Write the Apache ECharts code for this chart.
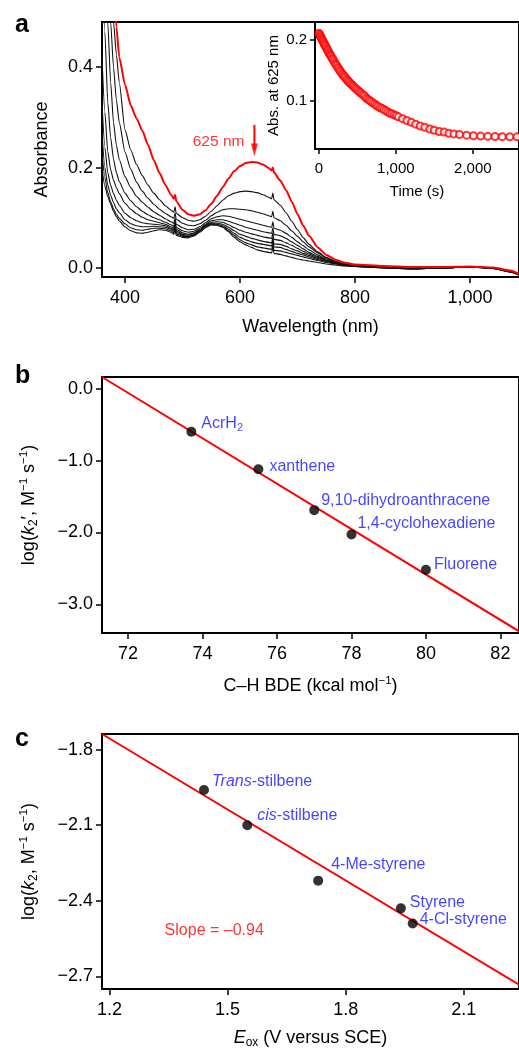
<!DOCTYPE html>
<html>
<head>
<meta charset="utf-8">
<script src="https://cdn.jsdelivr.net/npm/echarts@6.0.0/dist/echarts.min.js"></script>
<style>
  html, body { margin: 0; padding: 0; background: #fff; }
  #chart { width: 519px; height: 1050px; }
</style>
</head>
<body>
<div id="chart"></div>
<script>
// ---------- Panel a: UV-vis spectra during decay ----------
const wavelengths = [360, 365, 370, 375, 380, 385, 390, 400, 410, 420, 430, 440, 450, 460, 470, 480, 485, 487, 489,
  500, 510, 520, 530, 540, 550, 560, 570, 580, 590, 600, 610, 620, 630, 640, 650, 655, 657, 659,
  670, 680, 690, 700, 710, 720, 735, 750, 765, 780, 800, 850, 900, 950, 1000, 1040, 1070, 1085];

const specInitial = [0.95, 0.9, 0.82, 0.7, 0.58, 0.48, 0.42, 0.365, 0.324, 0.298, 0.274, 0.245, 0.215, 0.189, 0.166, 0.146, 0.138, 0.146, 0.133,
  0.116, 0.107, 0.104, 0.107, 0.115, 0.128, 0.144, 0.161, 0.178, 0.193, 0.203, 0.209, 0.211, 0.21, 0.206, 0.199, 0.194, 0.2, 0.19,
  0.174, 0.155, 0.132, 0.107, 0.084, 0.064, 0.041, 0.026, 0.017, 0.011, 0.007, 0.004, 0.002, 0.002, 0.003, 0.001, -0.005, -0.012];

const spec1 = [0.9, 0.76, 0.64, 0.56, 0.49, 0.425, 0.37, 0.275, 0.235, 0.206, 0.184, 0.165, 0.149, 0.136, 0.124, 0.115, 0.111, 0.122, 0.109,
  0.1, 0.095, 0.093, 0.096, 0.103, 0.113, 0.124, 0.135, 0.144, 0.149, 0.152, 0.153, 0.152, 0.15, 0.146, 0.141, 0.138, 0.149, 0.136,
  0.125, 0.11, 0.093, 0.076, 0.06, 0.047, 0.032, 0.021, 0.014, 0.009, 0.005, 0.002, 0.0, 0.001, 0.002, 0.0, -0.006, -0.013];

const spec2 = [0.9, 0.7, 0.57, 0.49, 0.4, 0.335, 0.29, 0.231, 0.197, 0.171, 0.153, 0.139, 0.127, 0.117, 0.109, 0.102, 0.099, 0.11, 0.097,
  0.089, 0.085, 0.084, 0.088, 0.095, 0.104, 0.111, 0.116, 0.118, 0.118, 0.117, 0.116, 0.114, 0.111, 0.108, 0.104, 0.102, 0.113, 0.1,
  0.094, 0.085, 0.074, 0.063, 0.052, 0.042, 0.03, 0.02, 0.013, 0.008, 0.005, 0.002, -0.001, 0.0, 0.002, 0.0, -0.006, -0.013];

const spec3 = [0.75, 0.6, 0.49, 0.37, 0.29, 0.245, 0.216, 0.182, 0.16, 0.143, 0.131, 0.121, 0.112, 0.105, 0.098, 0.092, 0.089, 0.1, 0.087,
  0.08, 0.076, 0.077, 0.082, 0.09, 0.098, 0.102, 0.104, 0.103, 0.1, 0.097, 0.094, 0.091, 0.088, 0.085, 0.082, 0.081, 0.092, 0.079,
  0.075, 0.069, 0.061, 0.052, 0.044, 0.036, 0.026, 0.018, 0.012, 0.008, 0.004, 0.001, -0.001, 0.0, 0.002, 0.0, -0.007, -0.013];

const spec4 = [0.6, 0.47, 0.33, 0.26, 0.217, 0.19, 0.172, 0.149, 0.134, 0.122, 0.113, 0.106, 0.1, 0.096, 0.091, 0.086, 0.083, 0.094, 0.081,
  0.074, 0.071, 0.073, 0.079, 0.087, 0.094, 0.096, 0.096, 0.093, 0.089, 0.085, 0.081, 0.078, 0.075, 0.072, 0.07, 0.069, 0.08, 0.067,
  0.064, 0.059, 0.052, 0.045, 0.038, 0.031, 0.023, 0.016, 0.011, 0.007, 0.004, 0.001, -0.001, 0.0, 0.002, 0.0, -0.007, -0.013];

const spec5 = [0.42, 0.31, 0.232, 0.196, 0.175, 0.16, 0.148, 0.129, 0.117, 0.108, 0.101, 0.096, 0.093, 0.09, 0.087, 0.082, 0.079, 0.09, 0.077,
  0.07, 0.067, 0.07, 0.077, 0.085, 0.091, 0.092, 0.091, 0.086, 0.08, 0.075, 0.071, 0.068, 0.065, 0.062, 0.06, 0.059, 0.07, 0.057,
  0.055, 0.05, 0.045, 0.039, 0.033, 0.028, 0.021, 0.015, 0.01, 0.007, 0.004, 0.001, -0.001, 0.0, 0.002, 0.0, -0.007, -0.013];

const spec6 = [0.33, 0.24, 0.19, 0.165, 0.148, 0.135, 0.125, 0.109, 0.1, 0.094, 0.09, 0.088, 0.087, 0.086, 0.084, 0.079, 0.076, 0.087, 0.074,
  0.067, 0.065, 0.068, 0.075, 0.084, 0.089, 0.089, 0.087, 0.081, 0.074, 0.067, 0.063, 0.059, 0.056, 0.053, 0.051, 0.05, 0.061, 0.048,
  0.047, 0.043, 0.038, 0.034, 0.029, 0.025, 0.019, 0.014, 0.01, 0.006, 0.004, 0.001, -0.001, 0.0, 0.002, 0.0, -0.007, -0.013];

const spec7 = [0.27, 0.2, 0.165, 0.145, 0.13, 0.118, 0.11, 0.096, 0.088, 0.084, 0.082, 0.082, 0.083, 0.082, 0.081, 0.077, 0.073, 0.084, 0.071,
  0.065, 0.063, 0.066, 0.074, 0.083, 0.088, 0.087, 0.084, 0.077, 0.069, 0.061, 0.056, 0.052, 0.049, 0.047, 0.045, 0.044, 0.055, 0.042,
  0.041, 0.037, 0.033, 0.029, 0.026, 0.022, 0.017, 0.013, 0.009, 0.006, 0.003, 0.001, -0.002, 0.0, 0.002, -0.001, -0.008, -0.014];

const spec8 = [0.23, 0.18, 0.15, 0.132, 0.118, 0.107, 0.099, 0.088, 0.08, 0.076, 0.075, 0.077, 0.079, 0.079, 0.078, 0.074, 0.07, 0.081, 0.068,
  0.063, 0.062, 0.065, 0.073, 0.082, 0.087, 0.086, 0.082, 0.074, 0.065, 0.056, 0.05, 0.046, 0.042, 0.04, 0.038, 0.037, 0.048, 0.035,
  0.034, 0.031, 0.028, 0.025, 0.022, 0.019, 0.015, 0.011, 0.008, 0.005, 0.003, 0.0, -0.002, 0.0, 0.002, -0.001, -0.008, -0.014];

const spec9 = [0.2, 0.163, 0.142, 0.127, 0.113, 0.102, 0.094, 0.082, 0.074, 0.07, 0.069, 0.071, 0.074, 0.076, 0.075, 0.071, 0.067, 0.078, 0.065,
  0.061, 0.06, 0.064, 0.071, 0.08, 0.0856, 0.085, 0.081, 0.072, 0.061, 0.052, 0.046, 0.041, 0.036, 0.033, 0.031, 0.03, 0.041, 0.029,
  0.027, 0.024, 0.021, 0.018, 0.016, 0.014, 0.011, 0.008, 0.006, 0.004, 0.003, 0.0, -0.002, 0.0, 0.002, -0.001, -0.008, -0.014];

const laterSpectra = [spec1, spec2, spec3, spec4, spec5, spec6, spec7, spec8, spec9];

const xTicksA = [400, 600, 800, 1000];
const yTicksA = [0, 0.2, 0.4];
const arrowShaftA = [[625, 0.285], [625, 0.235]];
const arrowTipA = [625, 0.222];
const arrowLabelA = [625, 0.251];
const arrowTextA = '625 nm';

// Inset: absorbance at 625 nm against time
const timeS = [0, 8, 16, 24, 32, 40, 48, 56, 64, 72, 80, 90, 100, 110, 120, 130, 140, 150, 160, 172, 184, 196, 208, 220, 232,
  245, 258, 271, 284, 298, 312, 326, 340, 355, 370, 385, 400, 416, 432, 448, 465, 482, 500, 518, 536, 555, 574, 594, 614,
  635, 656, 678, 700, 723, 746, 770, 794, 819, 844, 870, 896, 923, 950, 978, 1005, 1032, 1087, 1143, 1201, 1257, 1316,
  1376, 1440, 1499, 1563, 1627, 1690, 1754, 1826, 1919, 2008, 2102, 2195, 2289, 2382, 2480, 2575];
const abs625 = [0.211, 0.209, 0.207, 0.205, 0.203, 0.201, 0.199, 0.197, 0.195, 0.193, 0.191, 0.189, 0.186, 0.184, 0.182, 0.179, 0.177, 0.175, 0.173, 0.170, 0.168, 0.165, 0.162, 0.160, 0.158,
  0.155, 0.153, 0.150, 0.148, 0.145, 0.143, 0.141, 0.139, 0.136, 0.134, 0.132, 0.130, 0.128, 0.126, 0.124, 0.122, 0.120, 0.118, 0.116, 0.114, 0.112, 0.110, 0.108, 0.105,
  0.103, 0.101, 0.099, 0.097, 0.095, 0.093, 0.091, 0.089, 0.088, 0.086, 0.084, 0.082, 0.080, 0.079, 0.077, 0.076, 0.074, 0.071, 0.068, 0.065, 0.062, 0.059,
  0.057, 0.054, 0.052, 0.050, 0.049, 0.047, 0.046, 0.045, 0.044, 0.043, 0.0425, 0.042, 0.0418, 0.0415, 0.0413, 0.0412];
const xTicksInset = [0, 1000, 2000];
const yTicksInset = [0.1, 0.2];

// ---------- Panel b: log k2' vs C-H BDE ----------
const bdeNames = ['{t|AcrH}{s|2}', '{t|xanthene}', '{t|9,10-dihydroanthracene}', '{t|1,4-cyclohexadiene}', '{t|Fluorene}'];
const bdeValues = [73.7, 75.5, 77.0, 78.0, 80.0];
const logK2pValues = [-0.6, -1.12, -1.69, -2.03, -2.52];
const fitB = [[71.3, 0.163], [82.5, -3.376]];
const xTicksB = [72, 74, 76, 78, 80, 82];
const yTicksB = [-3, -2, -1, 0];

// ---------- Panel c: log k2 vs Eox ----------
const eoxNames = ['{it|Trans}{t|-stilbene}', '{it|cis}{t|-stilbene}', '{t|4-Me-styrene}', '{t|Styrene}', '{t|4-Cl-styrene}'];
const eoxValues = [1.44, 1.55, 1.73, 1.94, 1.97];
const logK2Values = [-1.96, -2.10, -2.32, -2.43, -2.49];
const fitC = [[1.181, -1.738], [2.24, -2.733]];
const slopeTextC = 'Slope = \u20130.94';
const slopePosC = [1.34, -2.52];
const xTicksC = [1.2, 1.5, 1.8, 2.1];
const yTicksC = [-2.7, -2.4, -2.1, -1.8];

// ---------- styling ----------
const FONT = "'Liberation Sans', Arial, Helvetica, sans-serif";
const RED = '#ff0000';
const BLUE = '#1414ff';
const AX = 18;

const minus = s => s.replace('-', '\u2212');

function valueAxis(cfg) {
  return {
    type: 'value',
    gridIndex: cfg.grid,
    min: cfg.min, max: cfg.max,
    position: cfg.position,
    axisLine: { show: true, onZero: false, lineStyle: { color: '#000', width: 2 } },
    axisTick: { show: true, inside: false, length: cfg.tickLen || 6, customValues: cfg.ticks,
      lineStyle: { color: '#000', width: 1.5 } },
    axisLabel: { show: true, customValues: cfg.ticks, formatter: cfg.fmt, margin: cfg.margin,
      color: '#000', fontSize: cfg.fontSize || AX, fontFamily: FONT },
    splitLine: { show: false },
    name: cfg.name, nameLocation: 'middle', nameGap: cfg.nameGap,
    nameTextStyle: Object.assign({ color: '#000', fontSize: cfg.fontSize || AX, fontFamily: FONT }, cfg.nameStyle || {})
  };
}

const nameRich = {
  t: { fontSize: AX, fontFamily: FONT, color: '#000', lineHeight: 22 },
  i: { fontSize: AX, fontFamily: FONT, color: '#000', fontStyle: 'italic', lineHeight: 22 },
  s: { fontSize: 12, fontFamily: FONT, color: '#000', lineHeight: 13, verticalAlign: 'bottom' },
  p: { fontSize: 11.5, fontFamily: FONT, color: '#000', lineHeight: 11, verticalAlign: 'top' }
};
const pointRich = {
  t: { fontSize: 16, fontFamily: FONT, color: BLUE, lineHeight: 20 },
  it: { fontSize: 16, fontFamily: FONT, color: BLUE, fontStyle: 'italic', lineHeight: 20 },
  s: { fontSize: 11, fontFamily: FONT, color: BLUE, lineHeight: 11, verticalAlign: 'bottom' }
};

const labelShiftB = [[0, -8], [1, -3], [-3, -10], [-4, -11], [-2, -5]];
const labelShiftC = [[-2, -8], [0, -10], [3, -16], [-1, -6], [-3, -4]];

const series = [];

// later spectra (black)
laterSpectra.forEach((arr) => {
  series.push({
    type: 'line', xAxisIndex: 0, yAxisIndex: 0, symbol: 'none', silent: true,
    smooth: 0.2, smoothMonotone: 'x', clip: true, z: 2,
    lineStyle: { color: '#111', width: 1.1 },
    data: wavelengths.map((w, i) => [w, arr[i]])
  });
});
// initial spectrum (red)
series.push({
  type: 'line', xAxisIndex: 0, yAxisIndex: 0, symbol: 'none', silent: true,
  smooth: 0.2, smoothMonotone: 'x', clip: true, z: 3,
  lineStyle: { color: RED, width: 2 },
  data: wavelengths.map((w, i) => [w, specInitial[i]])
});
// 625 nm arrow: shaft, head and text
series.push({
  type: 'line', xAxisIndex: 0, yAxisIndex: 0, symbol: 'none', silent: true, z: 4,
  lineStyle: { color: RED, width: 2 }, data: arrowShaftA
});
series.push({
  type: 'scatter', xAxisIndex: 0, yAxisIndex: 0, silent: true, z: 4,
  symbol: 'path://M0,0L8,0L4,14Z', symbolSize: [7, 13], symbolOffset: [0, '-50%'],
  itemStyle: { color: RED }, data: [arrowTipA]
});
series.push({
  type: 'scatter', xAxisIndex: 0, yAxisIndex: 0, symbolSize: 0, silent: true,
  data: [arrowLabelA],
  label: { show: true, position: 'left', distance: 10, formatter: arrowTextA,
    color: RED, fontSize: 15.5, fontFamily: FONT }
});
// inset decay trace
series.push({
  type: 'scatter', xAxisIndex: 1, yAxisIndex: 1, symbol: 'emptyCircle', symbolSize: 7, silent: true,
  clip: false,
  itemStyle: { color: RED, borderColor: RED, borderWidth: 1 },
  data: timeS.map((t, i) => [t, abs625[i]])
});
// panel b
series.push({
  type: 'line', xAxisIndex: 2, yAxisIndex: 2, symbol: 'none', silent: true,
  lineStyle: { color: RED, width: 2 }, data: fitB
});
series.push({
  type: 'scatter', xAxisIndex: 2, yAxisIndex: 2, symbol: 'circle', symbolSize: 10, silent: true, z: 4,
  itemStyle: { color: '#000' },
  data: bdeValues.map((x, i) => ({
    value: [x, logK2pValues[i]],
    label: { show: true, position: 'right', offset: labelShiftB[i], formatter: bdeNames[i], rich: pointRich }
  }))
});
// panel c
series.push({
  type: 'line', xAxisIndex: 3, yAxisIndex: 3, symbol: 'none', silent: true,
  lineStyle: { color: RED, width: 2 }, data: fitC
});
series.push({
  type: 'scatter', xAxisIndex: 3, yAxisIndex: 3, symbol: 'circle', symbolSize: 10, silent: true, z: 4,
  itemStyle: { color: '#000' },
  data: eoxValues.map((x, i) => ({
    value: [x, logK2Values[i]],
    label: { show: true, position: 'right', offset: labelShiftC[i], formatter: eoxNames[i], rich: pointRich }
  }))
});
series.push({
  type: 'scatter', xAxisIndex: 3, yAxisIndex: 3, symbolSize: 0, silent: true,
  data: [slopePosC],
  label: { show: true, position: 'inside', align: 'left', formatter: slopeTextC,
    color: RED, fontSize: 16, fontFamily: FONT }
});

const option = {
  animation: false,
  backgroundColor: '#fff',
  title: [
    { text: 'a', left: 10, top: 8, textStyle: { fontSize: 25, fontWeight: 'bold', fontFamily: FONT, color: '#000' } },
    { text: 'b', left: 10, top: 359, textStyle: { fontSize: 25, fontWeight: 'bold', fontFamily: FONT, color: '#000' } },
    { text: 'c', left: 10, top: 722, textStyle: { fontSize: 25, fontWeight: 'bold', fontFamily: FONT, color: '#000' } }
  ],
  grid: [
    { left: 102, top: 22, width: 422, height: 255, show: true, borderColor: '#000', borderWidth: 2 },
    { left: 315, top: 22, width: 208, height: 127 },
    { left: 102, top: 377, width: 421, height: 256, show: true, borderColor: '#000', borderWidth: 2 },
    { left: 102, top: 734, width: 422, height: 257, show: true, borderColor: '#000', borderWidth: 2 }
  ],
  xAxis: [
    valueAxis({ grid: 0, min: 360, max: 1085, ticks: xTicksA, margin: 12, position: 'bottom',
      fmt: v => v >= 1000 ? '1,000' : String(v), name: 'Wavelength (nm)', nameGap: 41 }),
    valueAxis({ grid: 1, min: -51, max: 2600, ticks: xTicksInset, margin: 12, position: 'bottom', tickLen: 5, fontSize: 15,
      fmt: v => v >= 1000 ? (v / 1000) + ',000' : String(v), name: 'Time (s)', nameGap: 35 }),
    valueAxis({ grid: 2, min: 71.3, max: 82.5, ticks: xTicksB, margin: 12, position: 'bottom',
      fmt: v => String(v), name: '{t|C\u2013H BDE (kcal mol}{p|\u22121}{t|)}', nameGap: 42,
      nameStyle: { rich: nameRich } }),
    valueAxis({ grid: 3, min: 1.181, max: 2.24, ticks: xTicksC, margin: 12, position: 'bottom',
      fmt: v => v.toFixed(1), name: '{i|E}{s|ox}{t| (V versus SCE)}', nameGap: 38,
      nameStyle: { rich: nameRich } })
  ],
  yAxis: [
    valueAxis({ grid: 0, min: -0.018, max: 0.49, ticks: yTicksA, margin: 9, position: 'left',
      fmt: v => v.toFixed(1), name: 'Absorbance', nameGap: 51 }),
    valueAxis({ grid: 1, min: 0.0213, max: 0.2295, ticks: yTicksInset, margin: 8, position: 'left', tickLen: 5, fontSize: 15,
      fmt: v => v.toFixed(1), name: 'Abs. at 625 nm', nameGap: 34 }),
    valueAxis({ grid: 2, min: -3.4, max: 0.163, ticks: yTicksB, margin: 9, position: 'left',
      fmt: v => minus(v.toFixed(1)), name: '{t|log(}{i|k}{s|2}{t|\u2032, M}{p|\u22121}{t| s}{p|\u22121}{t|)}', nameGap: 62,
      nameStyle: { rich: nameRich } }),
    valueAxis({ grid: 3, min: -2.75, max: -1.738, ticks: yTicksC, margin: 9, position: 'left',
      fmt: v => minus(v.toFixed(1)), name: '{t|log(}{i|k}{s|2}{t|, M}{p|\u22121}{t| s}{p|\u22121}{t|)}', nameGap: 62,
      nameStyle: { rich: nameRich } })
  ],
  series: series
};

const chart = echarts.init(document.getElementById('chart'), null, { renderer: 'canvas', width: 519, height: 1050 });
chart.setOption(option);
</script>
</body>
</html>
